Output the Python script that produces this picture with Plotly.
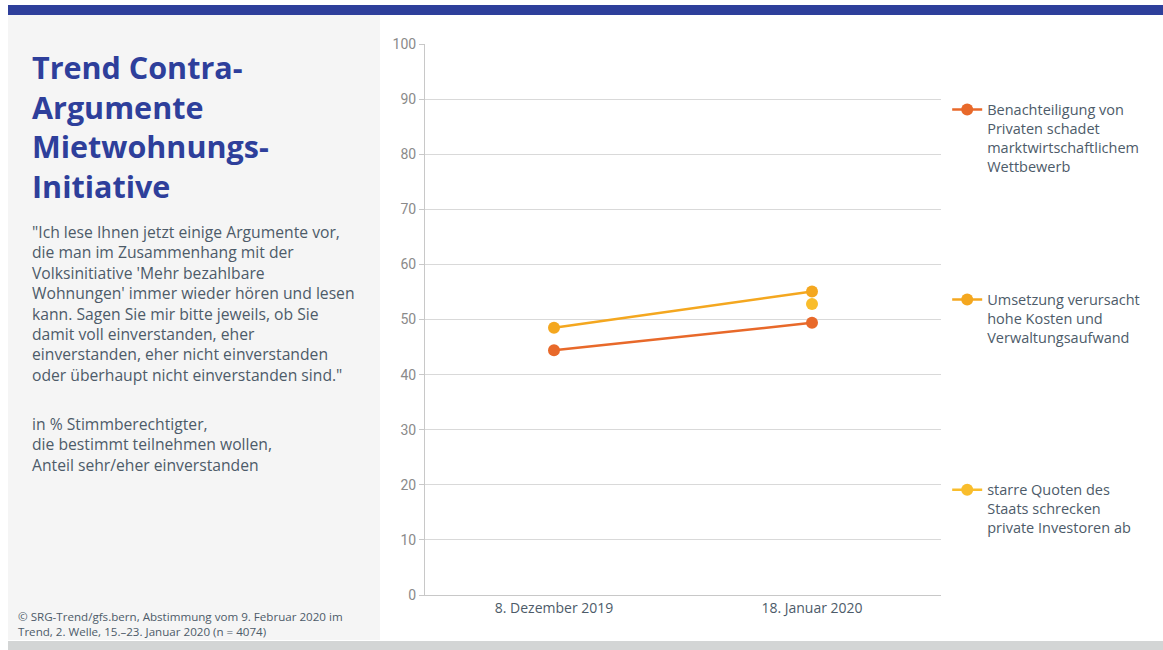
import plotly.graph_objects as go

# Survey waves (x categories)
waves = ["8. Dezember 2019", "18. Januar 2020"]

# Share "sehr/eher einverstanden" in % per argument
benachteiligung = [44.4, 49.4]
umsetzung = [48.5, 55.1]
quoten = [None, 52.8]

names = [
    "Benachteiligung von<br>Privaten schadet<br>marktwirtschaftlichem<br>Wettbewerb",
    "Umsetzung verursacht<br>hohe Kosten und<br>Verwaltungsaufwand",
    "starre Quoten des<br>Staats schrecken<br>private Investoren ab",
]
colors = ["#e8692a", "#f4a71f", "#f9bd2c"]
series = [benachteiligung, umsetzung, quoten]
legend_ids = ["legend", "legend2", "legend3"]
legend_y = [0.91, 0.565, 0.22]

TEXT = "#4d5b69"
BODY_FONT = "Open Sans"

fig = go.Figure()
for vals, name, col, lid in zip(series, names, colors, legend_ids):
    fig.add_trace(go.Scatter(
        x=waves, y=vals, name=name, mode="lines+markers",
        line=dict(color=col, width=2.5),
        marker=dict(color=col, size=12),
        legend=lid, connectgaps=False,
    ))

legend_common = dict(
    xanchor="left", yanchor="top", x=1.012, valign="top",
    bgcolor="rgba(0,0,0,0)", itemwidth=30,
    font=dict(family=BODY_FONT, size=14.5, color=TEXT),
    tracegroupgap=0,
)
layout_legends = {}
for lid, ly in zip(legend_ids, legend_y):
    layout_legends[lid] = dict(legend_common, y=ly)

fig.update_layout(
    width=1163, height=650, autosize=False,
    margin=dict(l=425, r=222, t=44, b=55),
    paper_bgcolor="white", plot_bgcolor="white",
    showlegend=True,
    **layout_legends,
    xaxis=dict(
        type="category", range=[-0.5, 1.5],
        showgrid=False, showline=True, linecolor="#c8c8c8", linewidth=1,
        ticks="", tickfont=dict(family=BODY_FONT, size=14, color=TEXT),
        fixedrange=True,
    ),
    yaxis=dict(
        range=[0, 100], dtick=10, showgrid=True, gridcolor="#d9d9d9", gridwidth=1,
        showline=True, linecolor="#c8c8c8", linewidth=1, zeroline=False,
        ticks="outside", ticklen=5, tickcolor="#c8c8c8",
        tickfont=dict(family="Roboto", size=14, color="#8a8a8a"),
        fixedrange=True,
    ),
    shapes=[
        # left text panel
        dict(type="rect", xref="paper", yref="paper", layer="below",
             x0=-417 / 516, x1=-45 / 516, y0=-45 / 551, y1=580 / 551,
             fillcolor="#f5f5f5", line=dict(width=0)),
        # top band
        dict(type="rect", xref="paper", yref="paper", layer="below",
             x0=-417 / 516, x1=738 / 516, y0=580 / 551, y1=590 / 551,
             fillcolor="#2e3f9b", line=dict(width=0)),
        # bottom band
        dict(type="rect", xref="paper", yref="paper", layer="below",
             x0=-417 / 516, x1=738 / 516, y0=-55 / 551, y1=-46 / 551,
             fillcolor="#d3d5d5", line=dict(width=0)),
    ],
)

title = "Trend Contra-<br>Argumente<br>Mietwohnungs-<br>Initiative"
question = ("\"Ich lese Ihnen jetzt einige Argumente vor,<br>"
            "die man im Zusammenhang mit der<br>"
            "Volksinitiative 'Mehr bezahlbare<br>"
            "Wohnungen' immer wieder hören und lesen<br>"
            "kann. Sagen Sie mir bitte jeweils, ob Sie<br>"
            "damit voll einverstanden, eher<br>"
            "einverstanden, eher nicht einverstanden<br>"
            "oder überhaupt nicht einverstanden sind.\"")
basis = "in % Stimmberechtigter,<br>die bestimmt teilnehmen wollen,<br>Anteil sehr/eher einverstanden"
source = "© SRG-Trend/gfs.bern, Abstimmung vom 9. Februar 2020 im<br>Trend, 2. Welle, 15.–23. Januar 2020 (n = 4074)"

def add_text(txt, px, py, size, color, bold=False, family=BODY_FONT):
    fig.add_annotation(
        text=f"<b>{txt}</b>" if bold else txt,
        xref="paper", yref="paper",
        x=(px - 425) / 516, y=(595 - py) / 551,
        xanchor="left", yanchor="top", align="left", showarrow=False,
        font=dict(family=family, size=size, color=color),
    )

add_text(title, 30, 44, 30.5, "#2e3f9b", bold=True)
add_text(question, 30, 219, 15.7, TEXT)
add_text(basis, 30, 411, 15.7, TEXT)
add_text(source, 16, 607, 11.6, TEXT)

fig.write_html("out.html")
